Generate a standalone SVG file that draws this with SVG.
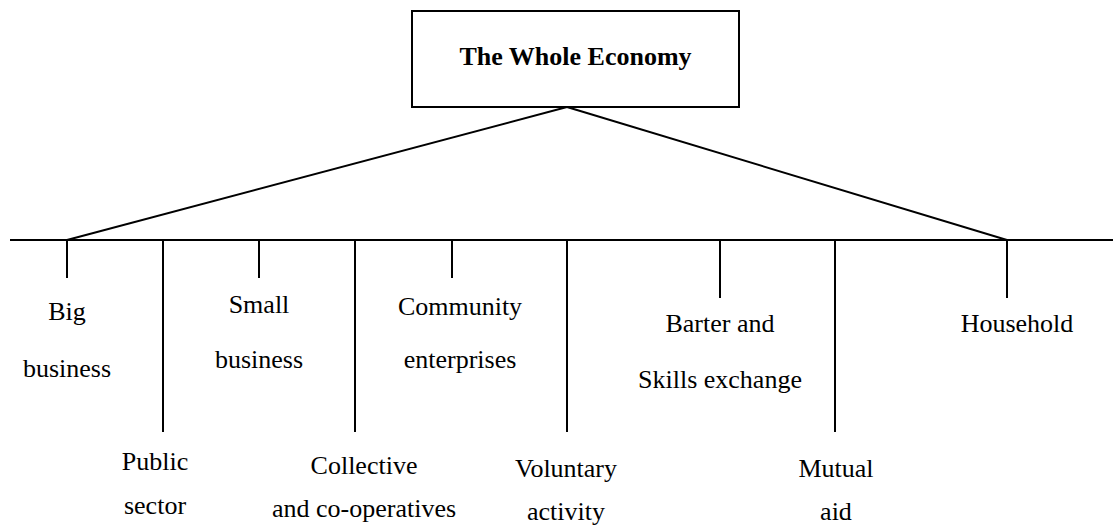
<svg xmlns="http://www.w3.org/2000/svg" width="1113" height="527" viewBox="0 0 1113 527">
<style>
.ln{stroke:#000;stroke-width:2;fill:none}
.t{font-family:"Liberation Serif","Times New Roman",serif;font-size:26px;fill:#000;text-anchor:middle}
.b{font-weight:bold}
</style>
<rect width="1113" height="527" fill="#fff"/>
<g id="root">
<rect x="412" y="11" width="327" height="96" class="ln"/>
<text class="t b" x="575.5" y="65">The Whole Economy</text>
</g>
<g id="connectors">
<line class="ln" x1="567" y1="107" x2="67" y2="240"/>
<line class="ln" x1="567" y1="107" x2="1007" y2="240"/>
<line class="ln" x1="10" y1="240" x2="1113" y2="240"/>
<line class="ln" x1="67" y1="240" x2="67" y2="278"/>
<line class="ln" x1="163" y1="240" x2="163" y2="432"/>
<line class="ln" x1="259" y1="240" x2="259" y2="278"/>
<line class="ln" x1="355" y1="240" x2="355" y2="432"/>
<line class="ln" x1="452" y1="240" x2="452" y2="278"/>
<line class="ln" x1="567" y1="240" x2="567" y2="432"/>
<line class="ln" x1="720" y1="240" x2="720" y2="298"/>
<line class="ln" x1="835" y1="240" x2="835" y2="432"/>
<line class="ln" x1="1007" y1="240" x2="1007" y2="298"/>
</g>
<g id="big-business"><text class="t" x="67" y="320">Big</text><text class="t" x="67" y="377">business</text></g>
<g id="public-sector"><text class="t" x="155" y="470">Public</text><text class="t" x="155" y="514">sector</text></g>
<g id="small-business"><text class="t" x="259" y="313">Small</text><text class="t" x="259" y="368">business</text></g>
<g id="collective"><text class="t" x="364" y="474">Collective</text><text class="t" x="364" y="517">and co-operatives</text></g>
<g id="community"><text class="t" x="460" y="315">Community</text><text class="t" x="460" y="368">enterprises</text></g>
<g id="voluntary"><text class="t" x="566" y="477">Voluntary</text><text class="t" x="566" y="520">activity</text></g>
<g id="barter"><text class="t" x="720" y="332">Barter and</text><text class="t" x="720" y="388">Skills exchange</text></g>
<g id="mutual"><text class="t" x="836" y="477">Mutual</text><text class="t" x="836" y="520">aid</text></g>
<g id="household"><text class="t" x="1017" y="332">Household</text></g>
</svg>
